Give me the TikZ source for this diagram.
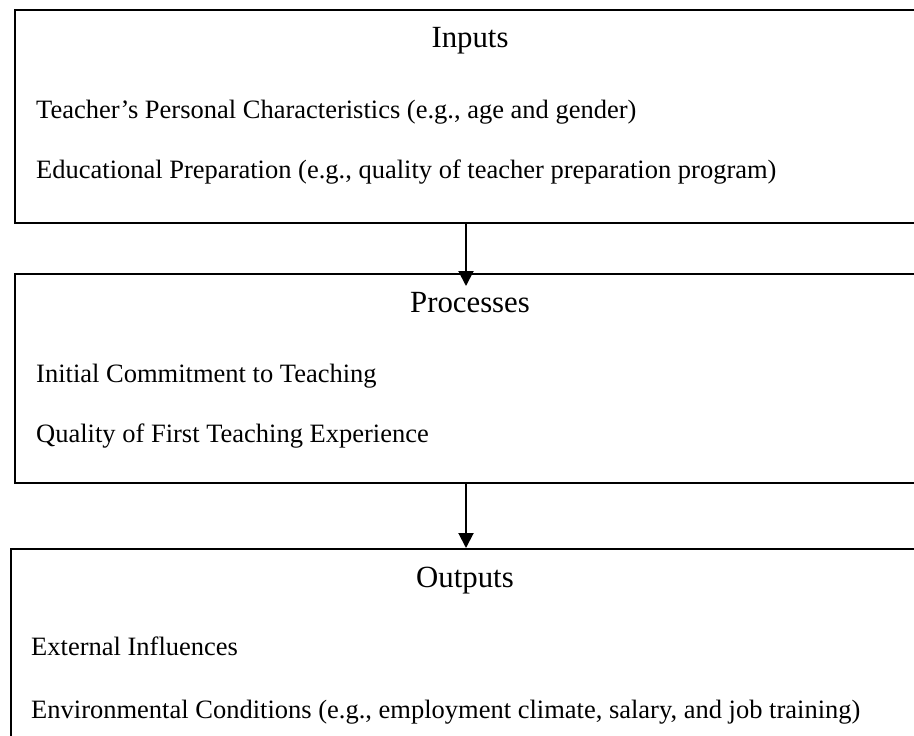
\documentclass[tikz,border=0pt]{standalone}
\usepackage{fontspec}
\setmainfont{Liberation Serif}
\usetikzlibrary{arrows.meta}
\begin{document}
\begin{tikzpicture}[x=1bp,y=-1bp,
  frame/.style={draw=black,line width=2bp,inner sep=0pt,anchor=north west},
  title/.style={font=\fontsize{30.8bp}{36bp}\selectfont,anchor=base,inner sep=0pt},
  item/.style={font=\fontsize{26.5bp}{31bp}\selectfont,anchor=base west,inner sep=0pt},
  arr/.style={line width=2bp,-{Triangle[length=15bp,width=15bp]}}]
\useasboundingbox (0,0) rectangle (914,736);
\clip (0,0) rectangle (914,736);
\fill[white] (0,0) rectangle (914,736);
\node[frame,minimum width=906bp,minimum height=213bp] (b1) at (14,9) {};
\node[frame,minimum width=906bp,minimum height=209bp] (b2) at (14,273) {};
\node[frame,minimum width=910bp,minimum height=200bp,line width=2.4bp] (b3) at (10,548) {};
\coordinate (ax) at (466,0);
\node[title] (t1) at (470,48) {Inputs};
\node[item] (i11) at (36,118) {Teacher’s Personal Characteristics (e.g., age and gender)};
\node[item] (i12) at (36,178) {Educational Preparation (e.g., quality of teacher preparation program)};
\node[title] (t2) at (470,312) {Processes};
\node[item] (i21) at (36,382) {Initial Commitment to Teaching};
\node[item] (i22) at (36,442) {Quality of First Teaching Experience};
\node[title] (t3) at (465,587) {Outputs};
\node[item] (i31) at (31,655) {External Influences};
\node[item] (i32) at (31,718) {Environmental Conditions (e.g., employment climate, salary, and job training)};
\draw[arr] (b1.south -| ax) -- ([yshift=-13bp]b2.north -| ax);
\draw[arr] (b2.south -| ax) -- (b3.north -| ax);
\end{tikzpicture}
\end{document}
